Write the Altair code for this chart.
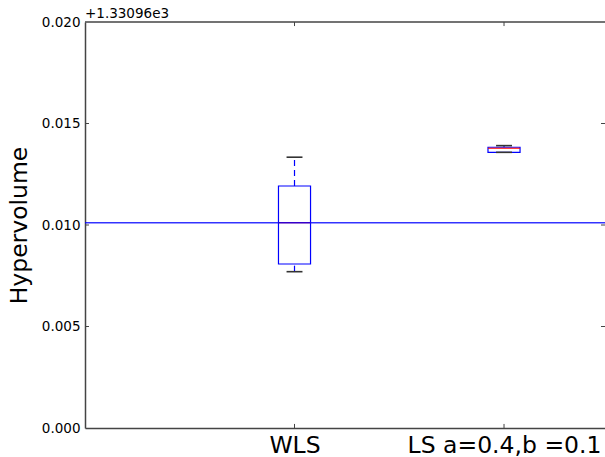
import altair as alt
import pandas as pd

# ---- data (values are offsets from 1330.96) ----
offset_label = "+1.33096e3"
categories = ["WLS", "LS a=0.4,b =0.1"]
positions = [1, 2]
lower_whisker = [0.00770, 0.01358]
q1 = [0.00808, 0.01358]
median = [0.01012, 0.01378]
q3 = [0.01192, 0.01383]
upper_whisker = [0.01334, 0.01391]
reference_level = [0.01011]
y_tick_values = [0.0, 0.005, 0.010, 0.015, 0.020]
inner_y_ticks = [0.005, 0.010, 0.015]

X_DOMAIN = [0, 2.482]
Y_DOMAIN = [0, 0.020]
BOX_HALF = 0.0765
CAP_HALF = 0.038
TICK_X = 0.019     # inward tick length in x units
TICK_Y = 0.0002    # inward tick length in y units

W, H = 520, 406
FONT = "DejaVu Sans"
SPINE = "#444444"
BLUE = "#0000ff"

df = pd.DataFrame({
    "cat": categories, "pos": positions, "lo": lower_whisker, "q1": q1,
    "med": median, "q3": q3, "hi": upper_whisker,
})

xs = alt.Scale(domain=X_DOMAIN, nice=False, zero=False)
ys = alt.Scale(domain=Y_DOMAIN, nice=False, zero=False)

label_expr = " : ".join(
    f"datum.value == {p} ? '{c}'" for p, c in zip(positions, categories)
) + " : ''"

x_axis = alt.Axis(values=positions, labelExpr=label_expr, title=None, grid=False,
                  ticks=False, domainColor=SPINE, domainWidth=1.5,
                  labelFont=FONT, labelFontSize=23.5, labelColor="black",
                  labelPadding=24, labelBaseline="alphabetic", labelOverlap=False,
                  labelLimit=0)
y_axis = alt.Axis(values=y_tick_values, format=".3f", title="Hypervolume", grid=False,
                  ticks=False, domainColor=SPINE, domainWidth=1.5,
                  labelFont=FONT, labelFontSize=13.5, labelColor="black",
                  labelPadding=5, labelOverlap=False, labelFlush=False,
                  titleFont=FONT, titleFontSize=23.5, titleFontWeight="normal",
                  titleColor="black", titleAngle=270, titleX=-59, titleY=H / 2,
                  titleAlign="center", titleBaseline="alphabetic")


def X(field):
    return alt.X(field, type="quantitative", scale=xs, axis=x_axis)


def Y(field):
    return alt.Y(field, type="quantitative", scale=ys, axis=y_axis)


base = alt.Chart(df).transform_calculate(
    xl=f"datum.pos - {BOX_HALF}", xr=f"datum.pos + {BOX_HALF}",
    cl=f"datum.pos - {CAP_HALF}", cr=f"datum.pos + {CAP_HALF}",
)

whisk_up = base.mark_rule(color=BLUE, strokeWidth=1.2, strokeDash=[6, 4]).encode(
    x=X("pos"), y=Y("q3"), y2="hi")
whisk_lo = base.mark_rule(color=BLUE, strokeWidth=1.2, strokeDash=[6, 4]).encode(
    x=X("pos"), y=Y("lo"), y2="q1")
cap_up = base.mark_rule(color="#333333", strokeWidth=1.6).encode(
    x=X("cl"), x2="cr", y=Y("hi"))
cap_lo = base.mark_rule(color="#333333", strokeWidth=1.6).encode(
    x=X("cl"), x2="cr", y=Y("lo"))
box = base.mark_rect(fillOpacity=0, stroke=BLUE, strokeWidth=1.2).encode(
    x=X("xl"), x2="xr", y=Y("q1"), y2="q3")
med = base.mark_rule(color="#ff0000", strokeWidth=1.2).encode(
    x=X("xl"), x2="xr", y=Y("med"))

hline = alt.Chart(pd.DataFrame({"level": reference_level})).mark_rule(
    color=BLUE, strokeWidth=1.4, opacity=0.8).encode(y=Y("level"))

# frame: top spine and inward ticks
top_spine = alt.Chart(pd.DataFrame({"v": [Y_DOMAIN[1]]})).mark_rule(
    color=SPINE, strokeWidth=1.5).encode(y=Y("v"))

yt = pd.DataFrame({"y": inner_y_ticks})
left_ticks = alt.Chart(yt).transform_calculate(
    a=f"{X_DOMAIN[0]}", b=f"{X_DOMAIN[0] + TICK_X}").mark_rule(
    color=SPINE, strokeWidth=1).encode(x=X("a"), x2="b", y=Y("y"))
right_ticks = alt.Chart(yt).transform_calculate(
    a=f"{X_DOMAIN[1] - TICK_X}", b=f"{X_DOMAIN[1]}").mark_rule(
    color=SPINE, strokeWidth=1).encode(x=X("a"), x2="b", y=Y("y"))

xt = pd.DataFrame({"x": positions})
bottom_ticks = alt.Chart(xt).transform_calculate(
    a=f"{Y_DOMAIN[0]}", b=f"{Y_DOMAIN[0] + TICK_Y}").mark_rule(
    color=SPINE, strokeWidth=1).encode(x=X("x"), y=Y("a"), y2="b")
top_ticks = alt.Chart(xt).transform_calculate(
    a=f"{Y_DOMAIN[1] - TICK_Y}", b=f"{Y_DOMAIN[1]}").mark_rule(
    color=SPINE, strokeWidth=1).encode(x=X("x"), y=Y("a"), y2="b")

offset_text = alt.Chart(pd.DataFrame({"t": [offset_label], "x": [X_DOMAIN[0]],
                                      "y": [Y_DOMAIN[1]]})).mark_text(
    align="left", baseline="alphabetic", dy=-4, font=FONT, fontSize=13.5,
    color="black").encode(x=X("x"), y=Y("y"), text="t:N")

chart = alt.layer(
    box, whisk_up, whisk_lo, cap_up, cap_lo, med, hline,
    top_spine, left_ticks, right_ticks, bottom_ticks, top_ticks, offset_text,
).properties(
    width=W, height=H,
    autosize=alt.AutoSizeParams(type="none"),
    padding={"left": 85, "top": 22, "right": 0, "bottom": 29},
    background="white",
).configure_view(stroke=None)

chart.save("out.html", embed_options={"renderer": "svg", "actions": False})
